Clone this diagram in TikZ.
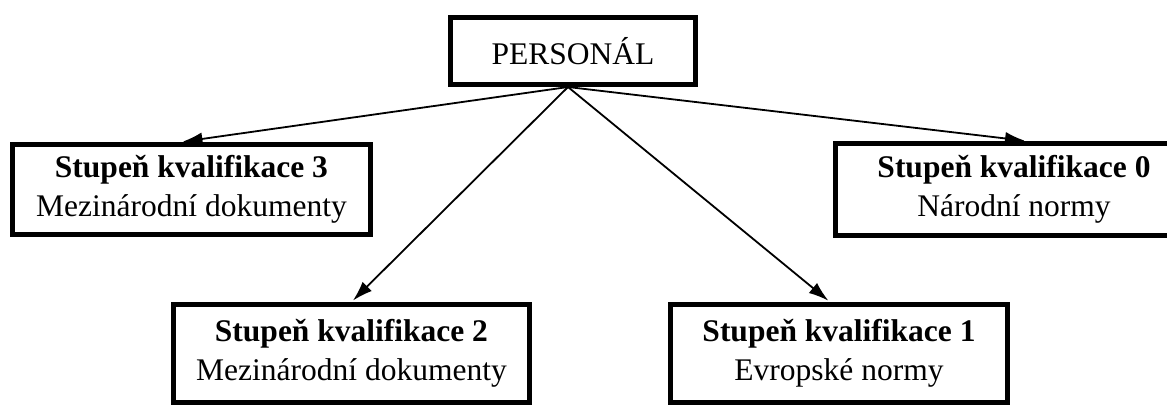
\documentclass[tikz,border=0pt]{standalone}
\usepackage{fontspec}
\setmainfont{Liberation Serif}
\usetikzlibrary{arrows.meta,calc}
\begin{document}
\begin{tikzpicture}[x=1pt,y=-1pt,
  frame/.style={draw=black,line width=5pt,fill=white,inner sep=0pt,align=center,
    font=\fontsize{31.5}{39}\selectfont},
  link/.style={line width=1.8pt,-{Latex[length=20pt,width=13pt]},shorten >=2pt}]
  % page area; boxes running past the edge are cut off
  \path[use as bounding box,clip] (0,0) rectangle (1167,406);
  \fill[white] (0,0) rectangle (1167,406);

  % root box
  \node[frame,minimum width=245pt,minimum height=67pt] (top) at (573,51) {PERSONÁL};

  % qualification levels
  \node[frame,minimum width=358pt,minimum height=90pt] (b3) at (191.5,189.5)
    {\textbf{Stupeň kvalifikace 3}\\Mezinárodní dokumenty};
  \node[frame,minimum width=357pt,minimum height=92pt] (b0) at (1014,189.5)
    {\textbf{Stupeň kvalifikace 0}\\Národní normy};
  \node[frame,minimum width=356pt,minimum height=98pt] (b2) at (351.5,353.5)
    {\textbf{Stupeň kvalifikace 2}\\Mezinárodní dokumenty};
  \node[frame,minimum width=337pt,minimum height=98pt] (b1) at (839,353.5)
    {\textbf{Stupeň kvalifikace 1}\\Evropské normy};

  % common origin of the arrows under the root box
  \coordinate (hub) at ($(top.south)+(-5,0)$);

  \draw[link] (hub) -- ($(b3.north)+(-11,0)$);
  \draw[link] (hub) -- ($(b0.north)+(13,0)$);
  \draw[link] (hub) -- (b2.north);
  \draw[link] (hub) -- ($(b1.north)+(-9,0)$);
\end{tikzpicture}
\end{document}
